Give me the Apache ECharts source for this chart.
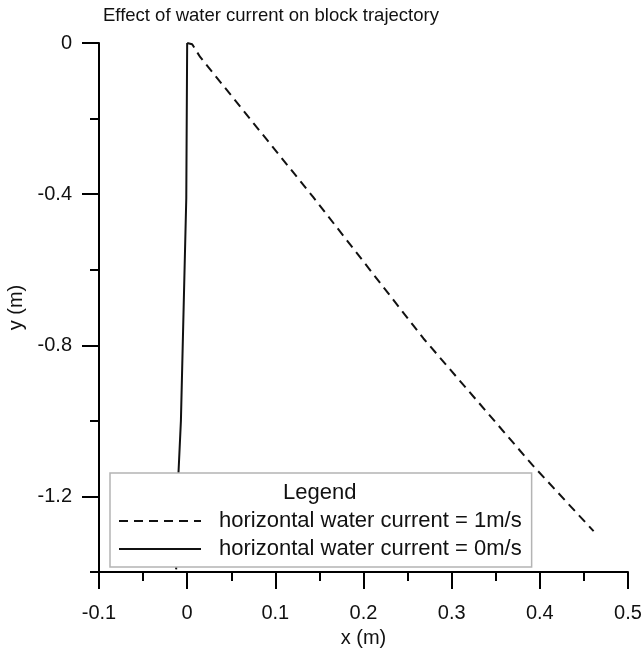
<!DOCTYPE html>
<html>
<head>
<meta charset="utf-8">
<title>Effect of water current on block trajectory</title>
<script src="https://cdn.jsdelivr.net/npm/echarts@6/dist/echarts.min.js"></script>
<style>
  html, body { margin: 0; padding: 0; background: #fff; }
  #chart { width: 643px; height: 649px; }
</style>
</head>
<body>
<div id="chart"></div>
<script type="text/javascript">
// trajectories, [x (m), y (m)]
var current1 = [[0, 0], [0.0057, -0.0034], [0.0147, -0.037], [0.143, -0.408], [0.268, -0.782], [0.392, -1.118], [0.461, -1.292]];
var current0 = [[0, 0], [-0.001, -0.41], [-0.0071, -1.0], [-0.0099, -1.14], [-0.0125, -1.393]];
var names = ['horizontal water current = 1m/s', 'horizontal water current = 0m/s'];
var yTicks = [0, -0.4, -0.8, -1.2];
var yMinorTicks = [-0.2, -0.6, -1.0, -1.4];

var font = "'Liberation Sans', Arial, sans-serif";
var myChart = echarts.init(document.getElementById('chart'));
var option = {
    backgroundColor: '#fff',
    animation: false,
    textStyle: { fontFamily: font, color: '#111' },
    title: {
        text: 'Effect of water current on block trajectory',
        left: 98,
        top: 1,
        textStyle: { fontFamily: font, fontSize: 18.5, fontWeight: 'normal', color: '#111' }
    },
    graphic: [{
        type: 'text',
        left: 283,
        top: 482,
        z: 10,
        style: { text: 'Legend', font: "22px 'Liberation Sans', Arial, sans-serif", fill: '#111' }
    }],
    legend: {
        data: names,
        orient: 'vertical',
        left: 110,
        top: 473,
        padding: [37, 10, 7, 8],
        itemGap: 6,
        itemWidth: 82,
        itemHeight: 14,
        backgroundColor: '#fff',
        borderColor: '#b4b4b4',
        borderWidth: 1.5,
        itemStyle: { opacity: 0 },
        formatter: function (name) { return '{a|' + name + '}'; },
        textStyle: {
            fontFamily: font,
            fontSize: 22,
            color: '#111',
            rich: { a: { fontFamily: font, fontSize: 22, lineHeight: 26, padding: [0, 0, 0, 13], color: '#111' } }
        }
    },
    grid: { left: 99, right: 15, top: 43, bottom: 77, outerBoundsMode: 'none', containLabel: false },
    xAxis: {
        type: 'value',
        min: -0.1,
        max: 0.5,
        interval: 0.1,
        name: 'x (m)',
        nameLocation: 'middle',
        nameGap: 56,
        nameTextStyle: { fontFamily: font, fontSize: 20, color: '#111' },
        axisLine: { onZero: false, lineStyle: { color: '#000', width: 2 } },
        axisTick: { length: 17, lineStyle: { color: '#000', width: 2 } },
        minorTick: { show: true, splitNumber: 2, length: 9, lineStyle: { color: '#000', width: 2 } },
        axisLabel: { margin: 31, fontFamily: font, fontSize: 20, color: '#111' },
        splitLine: { show: false }
    },
    yAxis: [{
        type: 'value',
        min: -1.4,
        max: 0,
        name: 'y (m)',
        nameLocation: 'middle',
        nameGap: 71,
        nameRotate: 90,
        nameTextStyle: { fontFamily: font, fontSize: 20, color: '#111' },
        axisLine: { onZero: false, lineStyle: { color: '#000', width: 2 } },
        axisTick: { length: 17, customValues: yTicks, lineStyle: { color: '#000', width: 2 } },
        axisLabel: { margin: 27, customValues: yTicks, fontFamily: font, fontSize: 20, color: '#111' },
        splitLine: { show: false }
    }, {
        type: 'value',
        position: 'left',
        min: -1.4,
        max: 0,
        axisLine: { show: false, onZero: false },
        axisTick: { show: true, length: 9, customValues: yMinorTicks, lineStyle: { color: '#000', width: 2 } },
        axisLabel: { show: false, customValues: yMinorTicks },
        splitLine: { show: false }
    }],
    series: [{
        name: names[0],
        type: 'line',
        data: current1,
        symbol: 'none',
        lineStyle: { color: '#111', width: 2, type: [9, 6] },
        itemStyle: { color: '#111' }
    }, {
        name: names[1],
        type: 'line',
        data: current0,
        symbol: 'none',
        lineStyle: { color: '#111', width: 2, type: 'solid' },
        itemStyle: { color: '#111' }
    }]
};
myChart.setOption(option);
</script>
</body>
</html>
